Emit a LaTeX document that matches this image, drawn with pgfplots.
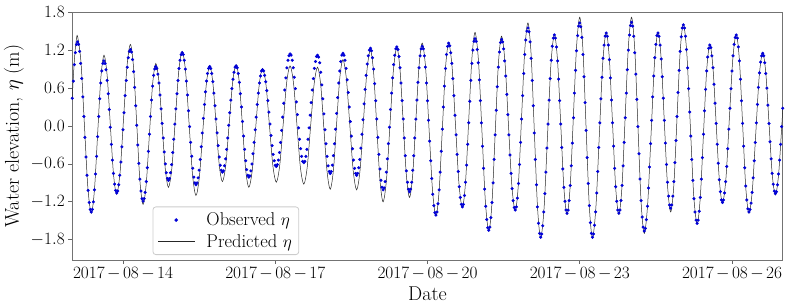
\documentclass[border=0pt]{standalone}
\usepackage{pgfplots}
\pgfplotsset{compat=1.18}
\definecolor{obsblue}{RGB}{0,0,215}
\newcommand{\dm}{\mskip2.5mu{-}\mskip2.5mu}
\begin{document}
\begin{tikzpicture}
\useasboundingbox (0,0) rectangle (787pt,304pt);
\begin{axis}[
  at={(72.25pt,44pt)}, anchor=south west,
  scale only axis, width=710.5pt, height=247.8pt,
  xmin=0, xmax=672, ymin=-2.12, ymax=1.8,
  xtick={48,192,336,480,624},
  xticklabels={$2017\dm08\dm14$,$2017\dm08\dm17$,$2017\dm08\dm20$,$2017\dm08\dm23$,$2017\dm08\dm26$},
  ytick={-1.8,-1.2,-0.6,0,0.6,1.2,1.8},
  yticklabel style={/pgf/number format/.cd, fixed, fixed zerofill, precision=1},
  tick label style={font=\fontsize{16.5}{19}\selectfont},
  label style={font=\fontsize{20}{24}\selectfont},
  xlabel={Date},
  ylabel={Water elevation, $\eta$ (m)},
  tick align=outside, xtick pos=bottom, ytick pos=left,
  major tick length=4pt,
  every tick/.style={black!60, line width=0.8pt},
  axis line style={black!55, line width=0.8pt},
  legend image code/.code={\draw[mark repeat=2,mark phase=2,#1] plot coordinates {(0pt,0pt) (18pt,0pt) (36pt,0pt)};},
  legend style={at={(0.113,0.02)}, anchor=south west, draw=black!20, line width=0.8pt, rounded corners=3pt, fill=white,
    font=\fontsize{18.5}{22}\selectfont, inner xsep=5pt, inner ysep=4pt, row sep=3pt,
    /tikz/every odd column/.append style={column sep=10pt}},
  legend cell align=left,
]
\addplot[only marks, mark=*, mark size=1.35pt, color=obsblue] coordinates {
(0,0.44) (1,0.71) (2,0.97) (3,1.16) (4,1.29) (5,1.33)
(6,1.29) (7,1.18) (8,0.99) (9,0.75) (10,0.46) (11,0.15) (12,-0.18) (13,-0.49) (14,-0.78) (15,-1.02) (16,-1.21) (17,-1.32) (18,-1.36)
(19,-1.32) (20,-1.20) (21,-1.01) (22,-0.76) (23,-0.48) (24,-0.17) (25,0.15) (26,0.43) (27,0.68) (28,0.87) (29,0.99) (30,1.03)
(31,0.99) (32,0.89) (33,0.72) (34,0.51) (35,0.26) (36,-0.02) (37,-0.29) (38,-0.54) (39,-0.75) (40,-0.92) (41,-1.02) (42,-1.06)
(43,-1.03) (44,-0.93) (45,-0.78) (46,-0.57) (47,-0.33) (48,-0.06) (49,0.21) (50,0.48) (51,0.72) (52,0.93) (53,1.08) (54,1.18) (55,1.21)
(56,1.17) (57,1.05) (58,0.86) (59,0.61) (60,0.32) (61,0.01) (62,-0.30) (63,-0.59) (64,-0.84) (65,-1.03) (66,-1.15) (67,-1.19)
(68,-1.15) (69,-1.05) (70,-0.88) (71,-0.66) (72,-0.40) (73,-0.13) (74,0.15) (75,0.41) (76,0.63) (77,0.80) (78,0.90) (79,0.94)
(80,0.91) (81,0.82) (82,0.68) (83,0.49) (84,0.27) (85,0.04) (86,-0.19) (87,-0.41) (88,-0.60) (89,-0.74) (90,-0.83) (91,-0.86)
(92,-0.83) (93,-0.74) (94,-0.61) (95,-0.42) (96,-0.21) (97,0.03) (98,0.27) (99,0.51) (100,0.72) (101,0.91) (102,1.04) (103,1.13) (104,1.16)
(105,1.13) (106,1.04) (107,0.90) (108,0.71) (109,0.49) (110,0.24) (111,-0.01) (112,-0.26) (113,-0.48) (114,-0.67) (115,-0.81) (116,-0.90) (117,-0.93)
(118,-0.90) (119,-0.82) (120,-0.70) (121,-0.53) (122,-0.33) (123,-0.11) (124,0.12) (125,0.34) (126,0.54) (127,0.71) (128,0.83) (129,0.91) (130,0.94)
(131,0.91) (132,0.83) (133,0.70) (134,0.52) (135,0.32) (136,0.11) (137,-0.11) (138,-0.31) (139,-0.49) (140,-0.62) (141,-0.70) (142,-0.73)
(143,-0.71) (144,-0.63) (145,-0.52) (146,-0.37) (147,-0.19) (148,0.01) (149,0.21) (150,0.41) (151,0.59) (152,0.74) (153,0.85) (154,0.93) (155,0.95)
(156,0.92) (157,0.83) (158,0.69) (159,0.51) (160,0.30) (161,0.07) (162,-0.16) (163,-0.37) (164,-0.55) (165,-0.69) (166,-0.78) (167,-0.81)
(168,-0.79) (169,-0.71) (170,-0.60) (171,-0.44) (172,-0.26) (173,-0.06) (174,0.14) (175,0.34) (176,0.52) (177,0.68) (178,0.79) (179,0.87) (180,0.89)
(181,0.87) (182,0.80) (183,0.70) (184,0.56) (185,0.40) (186,0.22) (187,0.03) (188,-0.15) (189,-0.31) (190,-0.45) (191,-0.55) (192,-0.62) (193,-0.64)
(194,-0.61) (195,-0.54) (196,-0.42) (197,-0.26) (198,-0.07) (199,0.14) (200,0.36) (201,0.57) (202,0.76) (203,0.92) (204,1.04) (205,1.11) (206,1.14)
(207,1.12) (208,1.04) (209,0.92) (210,0.77) (211,0.59) (212,0.38) (213,0.18) (214,-0.03) (215,-0.21) (216,-0.36) (217,-0.48) (218,-0.56) (219,-0.58)
(220,-0.56) (221,-0.48) (222,-0.37) (223,-0.21) (224,-0.03) (225,0.17) (226,0.37) (227,0.57) (228,0.75) (229,0.91) (230,1.02) (231,1.10) (232,1.12)
(233,1.09) (234,1.00) (235,0.85) (236,0.65) (237,0.43) (238,0.19) (239,-0.06) (240,-0.28) (241,-0.48) (242,-0.63) (243,-0.72) (244,-0.75)
(245,-0.72) (246,-0.62) (247,-0.47) (248,-0.28) (249,-0.05) (250,0.20) (251,0.45) (252,0.68) (253,0.87) (254,1.02) (255,1.12) (256,1.15)
(257,1.12) (258,1.04) (259,0.91) (260,0.73) (261,0.53) (262,0.30) (263,0.07) (264,-0.16) (265,-0.36) (266,-0.54) (267,-0.67) (268,-0.75) (269,-0.78)
(270,-0.75) (271,-0.66) (272,-0.53) (273,-0.35) (274,-0.13) (275,0.10) (276,0.35) (277,0.58) (278,0.80) (279,0.98) (280,1.11) (281,1.20) (282,1.23)
(283,1.19) (284,1.08) (285,0.90) (286,0.67) (287,0.40) (288,0.11) (289,-0.18) (290,-0.45) (291,-0.68) (292,-0.86) (293,-0.97) (294,-1.01)
(295,-0.98) (296,-0.88) (297,-0.73) (298,-0.52) (299,-0.28) (300,-0.02) (301,0.26) (302,0.52) (303,0.76) (304,0.97) (305,1.12) (306,1.22) (307,1.25)
(308,1.21) (309,1.10) (310,0.92) (311,0.68) (312,0.40) (313,0.11) (314,-0.19) (315,-0.47) (316,-0.71) (317,-0.89) (318,-1.00) (319,-1.04)
(320,-1.00) (321,-0.89) (322,-0.70) (323,-0.47) (324,-0.19) (325,0.11) (326,0.41) (327,0.69) (328,0.92) (329,1.11) (330,1.22) (331,1.26)
(332,1.22) (333,1.11) (334,0.93) (335,0.68) (336,0.40) (337,0.09) (338,-0.24) (339,-0.55) (340,-0.83) (341,-1.08) (342,-1.26) (343,-1.37) (344,-1.41)
(345,-1.36) (346,-1.23) (347,-1.01) (348,-0.73) (349,-0.40) (350,-0.05) (351,0.30) (352,0.63) (353,0.91) (354,1.13) (355,1.26) (356,1.31)
(357,1.27) (358,1.16) (359,0.99) (360,0.75) (361,0.48) (362,0.17) (363,-0.14) (364,-0.45) (365,-0.72) (366,-0.96) (367,-1.13) (368,-1.24) (369,-1.28)
(370,-1.24) (371,-1.10) (372,-0.89) (373,-0.62) (374,-0.29) (375,0.05) (376,0.39) (377,0.72) (378,0.99) (379,1.20) (380,1.34) (381,1.38)
(382,1.34) (383,1.21) (384,1.00) (385,0.73) (386,0.40) (387,0.05) (388,-0.32) (389,-0.67) (390,-1.00) (391,-1.27) (392,-1.48) (393,-1.61) (394,-1.65)
(395,-1.60) (396,-1.45) (397,-1.21) (398,-0.90) (399,-0.53) (400,-0.14) (401,0.25) (402,0.62) (403,0.93) (404,1.17) (405,1.32) (406,1.37)
(407,1.33) (408,1.22) (409,1.03) (410,0.79) (411,0.50) (412,0.18) (413,-0.14) (414,-0.46) (415,-0.75) (416,-0.99) (417,-1.18) (418,-1.29) (419,-1.33)
(420,-1.28) (421,-1.14) (422,-0.91) (423,-0.61) (424,-0.26) (425,0.11) (426,0.48) (427,0.83) (428,1.13) (429,1.36) (430,1.50) (431,1.55)
(432,1.49) (433,1.33) (434,1.07) (435,0.72) (436,0.32) (437,-0.11) (438,-0.53) (439,-0.93) (440,-1.28) (441,-1.54) (442,-1.70) (443,-1.76)
(444,-1.71) (445,-1.58) (446,-1.36) (447,-1.07) (448,-0.73) (449,-0.35) (450,0.03) (451,0.41) (452,0.75) (453,1.04) (454,1.26) (455,1.39) (456,1.44)
(457,1.39) (458,1.25) (459,1.03) (460,0.74) (461,0.40) (462,0.03) (463,-0.34) (464,-0.68) (465,-0.97) (466,-1.19) (467,-1.33) (468,-1.38)
(469,-1.33) (470,-1.18) (471,-0.94) (472,-0.63) (473,-0.27) (474,0.13) (475,0.52) (476,0.88) (477,1.19) (478,1.43) (479,1.58) (480,1.63)
(481,1.57) (482,1.40) (483,1.13) (484,0.78) (485,0.37) (486,-0.07) (487,-0.50) (488,-0.91) (489,-1.26) (490,-1.53) (491,-1.70) (492,-1.76)
(493,-1.71) (494,-1.57) (495,-1.36) (496,-1.06) (497,-0.72) (498,-0.34) (499,0.05) (500,0.43) (501,0.77) (502,1.07) (503,1.28) (504,1.42) (505,1.47)
(506,1.42) (507,1.28) (508,1.05) (509,0.76) (510,0.41) (511,0.05) (512,-0.32) (513,-0.67) (514,-0.96) (515,-1.19) (516,-1.33) (517,-1.38)
(518,-1.33) (519,-1.18) (520,-0.94) (521,-0.63) (522,-0.26) (523,0.13) (524,0.52) (525,0.89) (526,1.20) (527,1.44) (528,1.59) (529,1.64)
(530,1.58) (531,1.42) (532,1.16) (533,0.82) (534,0.42) (535,-0.01) (536,-0.44) (537,-0.84) (538,-1.18) (539,-1.44) (540,-1.60) (541,-1.66)
(542,-1.62) (543,-1.48) (544,-1.27) (545,-0.98) (546,-0.65) (547,-0.28) (548,0.09) (549,0.46) (550,0.79) (551,1.08) (552,1.29) (553,1.43) (554,1.47)
(555,1.42) (556,1.28) (557,1.06) (558,0.78) (559,0.44) (560,0.09) (561,-0.27) (562,-0.61) (563,-0.89) (564,-1.11) (565,-1.25) (566,-1.30)
(567,-1.25) (568,-1.11) (569,-0.88) (570,-0.58) (571,-0.23) (572,0.15) (573,0.53) (574,0.88) (575,1.18) (576,1.41) (577,1.55) (578,1.60)
(579,1.55) (580,1.42) (581,1.21) (582,0.92) (583,0.59) (584,0.22) (585,-0.16) (586,-0.53) (587,-0.86) (588,-1.15) (589,-1.36) (590,-1.49) (591,-1.54)
(592,-1.49) (593,-1.35) (594,-1.13) (595,-0.84) (596,-0.50) (597,-0.13) (598,0.24) (599,0.58) (600,0.87) (601,1.09) (602,1.23) (603,1.28)
(604,1.24) (605,1.11) (606,0.92) (607,0.66) (608,0.36) (609,0.04) (610,-0.29) (611,-0.59) (612,-0.85) (613,-1.04) (614,-1.17) (615,-1.21)
(616,-1.17) (617,-1.06) (618,-0.88) (619,-0.64) (620,-0.36) (621,-0.05) (622,0.28) (623,0.59) (624,0.87) (625,1.11) (626,1.29) (627,1.40) (628,1.44)
(629,1.39) (630,1.25) (631,1.03) (632,0.74) (633,0.40) (634,0.04) (635,-0.32) (636,-0.66) (637,-0.95) (638,-1.17) (639,-1.31) (640,-1.36)
(641,-1.32) (642,-1.22) (643,-1.05) (644,-0.82) (645,-0.55) (646,-0.26) (647,0.05) (648,0.34) (649,0.61) (650,0.84) (651,1.01) (652,1.11) (653,1.15)
(654,1.11) (655,1.00) (656,0.83) (657,0.60) (658,0.33) (659,0.04) (660,-0.25) (661,-0.52) (662,-0.75) (663,-0.92) (664,-1.03) (665,-1.07)
(666,-1.04) (667,-0.93) (668,-0.76) (669,-0.54) (670,-0.29) (671,-0.01) (672,0.28)
};
\addlegendentry{Observed $\eta$}
\addplot[black!85, line width=0.5pt, smooth, no marks] coordinates {
(0,0.45) (1.25,0.84) (2.5,1.15) (3.75,1.35) (5,1.42)
(8.25,1.01) (11.5,0.02) (14.75,-0.97) (18,-1.38)
(21,-1.01) (24,-0.13) (27,0.75) (30,1.12)
(33,0.80) (36,0.02) (39,-0.76) (42,-1.08)
(45.25,-0.73) (48.5,0.11) (51.75,0.94) (55,1.29)
(58,0.92) (61,0.03) (64,-0.87) (67,-1.24)
(70,-0.91) (73,-0.13) (76,0.66) (79,0.99)
(82,0.70) (85,0.01) (88,-0.68) (91,-0.97)
(94.25,-0.66) (97.5,0.11) (100.75,0.87) (104,1.18)
(107.25,0.85) (110.5,0.04) (113.75,-0.77) (117,-1.10)
(120.25,-0.80) (123.5,-0.08) (126.75,0.65) (130,0.95)
(133,0.68) (136,0.04) (139,-0.61) (142,-0.88)
(145.25,-0.61) (148.5,0.05) (151.75,0.70) (155,0.97)
(158,0.69) (161,0) (164,-0.69) (167,-0.97)
(170.25,-0.70) (173.5,-0.03) (176.75,0.64) (180,0.91)
(183.25,0.65) (186.5,0.01) (189.75,-0.63) (193,-0.89)
(196.25,-0.62) (199.5,0.03) (202.75,0.68) (206,0.95)
(209.25,0.68) (212.5,0.02) (215.75,-0.65) (219,-0.92)
(222.25,-0.65) (225.5,0.01) (228.75,0.66) (232,0.93)
(235,0.65) (238,-0.04) (241,-0.72) (244,-1.00)
(247,-0.70) (250,0.03) (253,0.75) (256,1.05)
(259.25,0.75) (262.5,0.02) (265.75,-0.71) (269,-1.01)
(272.25,-0.69) (275.5,0.10) (278.75,0.88) (282,1.20)
(285,0.85) (288,0) (291,-0.85) (294,-1.20)
(297.25,-0.84) (300.5,0.02) (303.75,0.88) (307,1.24)
(310,0.89) (313,0.06) (316,-0.78) (319,-1.13)
(322,-0.77) (325,0.09) (328,0.95) (331,1.31)
(334.25,0.91) (337.5,-0.06) (340.75,-1.02) (344,-1.42)
(347,-1.02) (350,-0.06) (353,0.91) (356,1.31)
(359.25,0.93) (362.5,0.01) (365.75,-0.91) (369,-1.29)
(372,-0.88) (375,0.10) (378,1.07) (381,1.48)
(384.25,1.02) (387.5,-0.09) (390.75,-1.20) (394,-1.66)
(397,-1.21) (400,-0.12) (403,0.97) (406,1.42)
(409.25,1.02) (412.5,0.04) (415.75,-0.94) (419,-1.34)
(422,-0.91) (425,0.15) (428,1.20) (431,1.63)
(434,1.13) (437,-0.07) (440,-1.27) (443,-1.77)
(446.25,-1.30) (449.5,-0.16) (452.75,0.98) (456,1.45)
(459,1.03) (462,0.03) (465,-0.98) (468,-1.40)
(471,-0.94) (474,0.16) (477,1.26) (480,1.72)
(483,1.21) (486,-0.03) (489,-1.26) (492,-1.77)
(495.25,-1.29) (498.5,-0.15) (501.75,1.00) (505,1.48)
(508,1.06) (511,0.04) (514,-0.98) (517,-1.40)
(520,-0.94) (523,0.16) (526,1.26) (529,1.72)
(532,1.22) (535,0.01) (538,-1.20) (541,-1.70)
(544.25,-1.23) (547.5,-0.11) (550.75,1.01) (554,1.48)
(557,1.06) (560,0.06) (563,-0.94) (566,-1.36)
(569,-0.93) (572,0.13) (575,1.18) (578,1.61)
(581.25,1.15) (584.5,0.03) (587.75,-1.09) (591,-1.55)
(594,-1.13) (597,-0.13) (600,0.87) (603,1.29)
(606,0.92) (609,0.04) (612,-0.85) (615,-1.22)
(618.25,-0.83) (621.5,0.12) (624.75,1.06) (628,1.45)
(631,1.04) (634,0.04) (637,-0.97) (640,-1.38)
(643.25,-1.01) (646.5,-0.11) (649.75,0.79) (653,1.16)
(656,0.83) (659,0.04) (662,-0.76) (665,-1.09)
(668,-0.78) (671,-0.02) (672,0.27)
};
\addlegendentry{Predicted $\eta$}
\end{axis}
\end{tikzpicture}
\end{document}
